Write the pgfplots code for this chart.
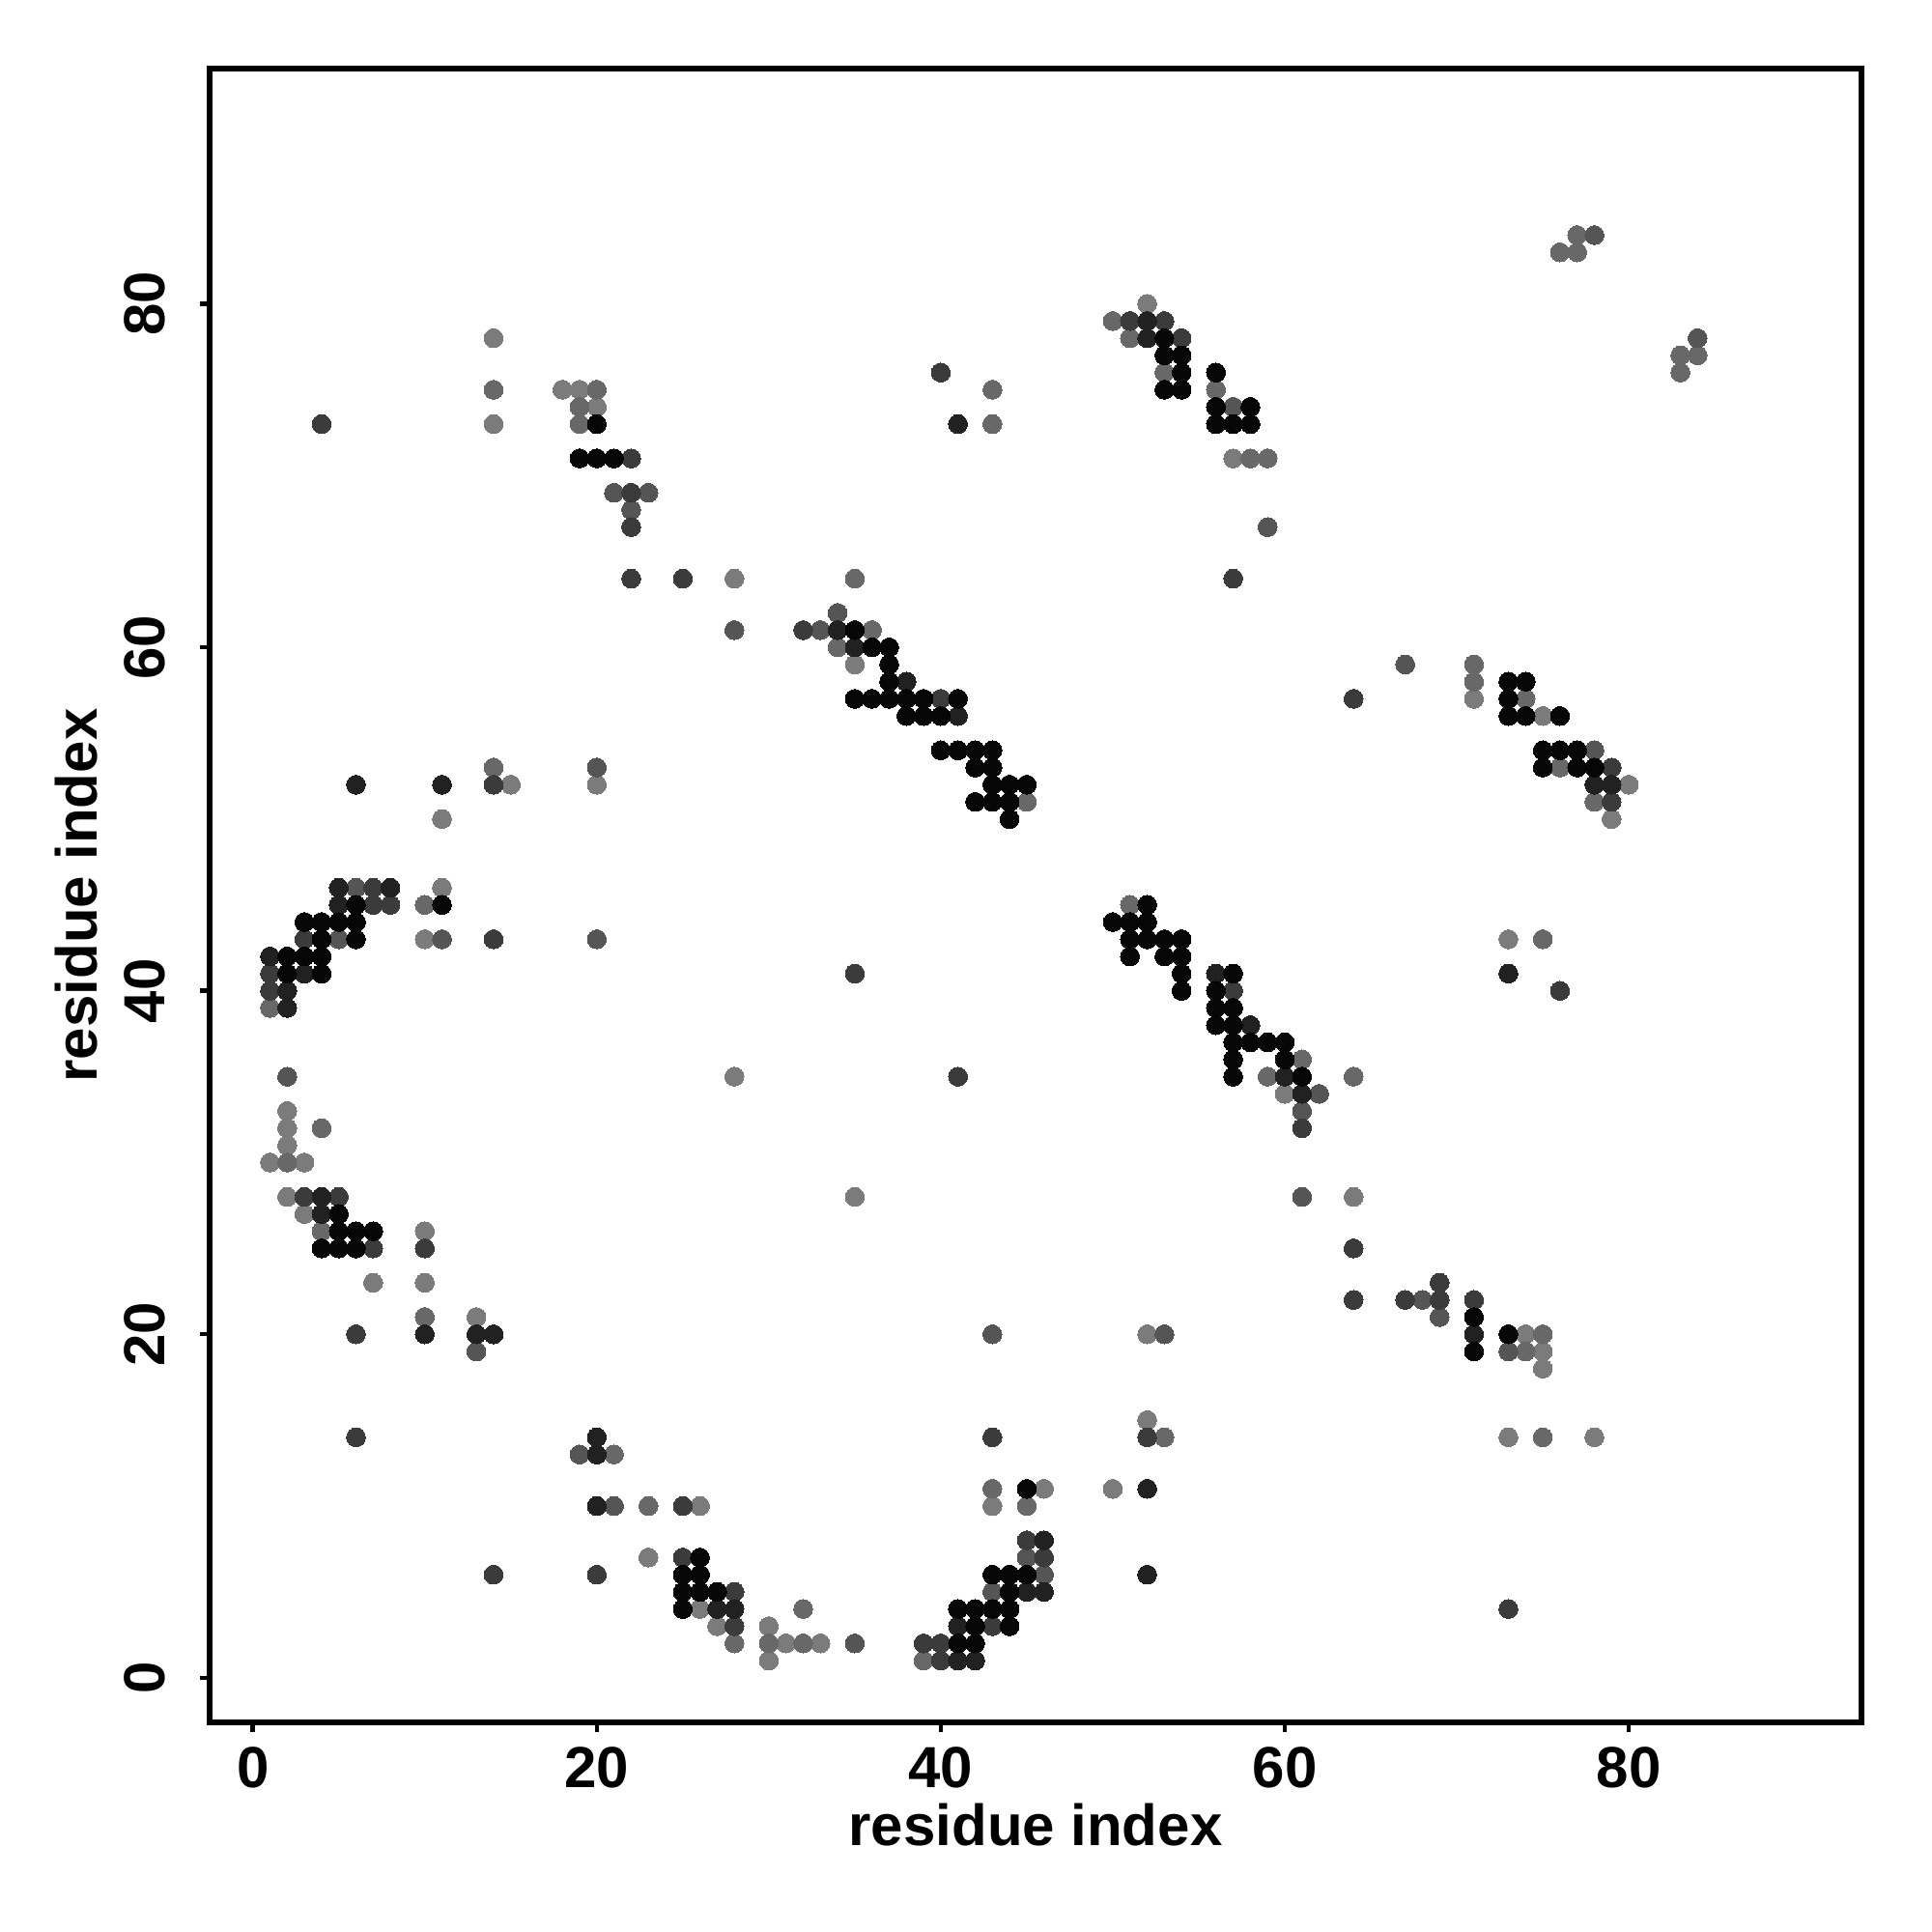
\documentclass[border=0pt]{standalone}
\usepackage{fontspec}
\setmainfont{Liberation Sans}
\usepackage{pgfplots}
\pgfplotsset{compat=1.18}
\definecolor{cK}{HTML}{060606}
\definecolor{cD1}{HTML}{212121}
\definecolor{cD2}{HTML}{3B3B3B}
\definecolor{cM}{HTML}{555555}
\definecolor{cL1}{HTML}{686868}
\definecolor{cL2}{HTML}{7B7B7B}
\pgfplotsset{dot/.style={only marks, mark=*, mark size=2.45pt, color=#1, mark options={solid, draw=#1, fill=#1, line width=0pt}}}
\begin{document}
\begin{tikzpicture}
\path[use as bounding box] (-54.25pt,-54.25pt) rectangle (445.75pt,445.75pt);
\begin{axis}[
  at={(0,0)}, anchor=south west,
  scale only axis, width=427.5pt, height=428pt,
  xmin=-2.51, xmax=93.53, ymin=-2.6, ymax=93.7,
  xtick={0,20,40,60,80}, ytick={0,20,40,60,80},
  xtick pos=lower, ytick pos=left,
  tick align=outside, major tick length=2.5pt,
  tick style={line width=1.1pt, black},
  axis line style={line width=1.3pt},
  /pgf/number format/assume math mode=true,
  ticklabel style={font=\fontsize{15}{18}\selectfont\bfseries, inner sep=0pt},
  xticklabel style={anchor=base, yshift=-14.25pt},
  yticklabel style={xshift=-9pt, rotate=90, anchor=base},
  xlabel={residue index}, ylabel={residue index},
  every axis x label/.style={at={(rel axis cs:0.5,0)}, yshift=-31.75pt, anchor=base, font=\fontsize{15}{18}\selectfont\bfseries},
  every axis y label/.style={at={(rel axis cs:0,0.5)}, xshift=-29pt, rotate=90, anchor=base, font=\fontsize{15}{18}\selectfont\bfseries},
  clip=false,
]
% lightest
\addplot[dot=cL2] coordinates {
(14,78)(18,75)(19,75)(20,74)(14,73)(28,64)(52,80)(57,71)(35,59)(60,34)(71,57)(75,56)(80,52)(79,50)(73,43)(11,50)(15,52)(20,52)(11,46)(10,43)(28,35)(2,33)(2,32)(2,31)(1,30)(3,30)(2,28)(3,27)(7,23)(10,26)(10,23)(13,21)(26,10)(23,7)(26,4)(27,3)(30,3)(30,1)(35,28)(52,20)(52,15)(46,11)(50,11)(43,10)(31,2)(33,2)(64,28)(74,20)(75,19)(75,18)(73,14)(78,14)
};
\addplot[dot=cL1] coordinates {
(14,75)(20,75)(19,74)(19,73)(50,79)(51,78)(53,76)(56,75)(58,71)(59,71)(43,75)(43,73)(35,64)(36,61)(34,60)(45,51)(51,45)(61,36)(59,35)(77,84)(76,83)(77,83)(83,77)(84,77)(83,76)(71,59)(71,58)(74,57)(76,53)(78,51)(75,43)(64,35)(14,53)(10,45)(1,39)(4,32)(2,30)(4,26)(10,21)(21,13)(23,10)(28,2)(30,2)(53,14)(43,11)(45,10)(39,1)(32,2)(32,4)(75,20)(74,19)(75,14)
};
\addplot[dot=cM] coordinates {
(21,69)(23,69)(22,68)(28,61)(57,74)(59,67)(34,62)(33,61)(62,34)(61,33)(78,84)(84,78)(67,59)(78,54)(20,53)(6,46)(5,43)(11,43)(20,43)(2,35)(13,19)(19,13)(21,10)(61,28)(43,20)(53,20)(45,7)(46,6)(43,5)(35,2)(68,22)(69,21)(73,19)
};
\addplot[dot=cD2] coordinates {
(4,73)(22,71)(22,69)(22,67)(22,64)(25,64)(51,79)(53,79)(54,78)(57,64)(40,76)(32,61)(40,57)(57,40)(61,32)(35,41)(41,35)(64,57)(79,53)(79,51)(76,40)(14,52)(7,46)(7,45)(8,45)(3,43)(1,41)(1,40)(14,43)(3,28)(5,28)(7,25)(10,25)(6,20)(6,14)(25,10)(25,7)(14,6)(20,6)(28,5)(28,3)(43,14)(52,14)(45,8)(46,7)(43,3)(39,2)(40,2)(40,1)(64,25)(64,22)(67,22)(69,22)(69,23)(71,22)(73,4)
};
\addplot[dot=cD1] coordinates {
(52,79)(52,78)(41,73)(34,61)(35,60)(38,58)(41,56)(56,41)(58,38)(60,35)(61,34)(78,52)(79,52)(73,41)(6,52)(11,52)(5,46)(8,46)(5,45)(1,42)(3,41)(2,40)(2,39)(4,28)(4,27)(10,20)(13,20)(14,20)(20,14)(20,13)(20,10)(27,4)(28,4)(52,11)(46,8)(52,6)(45,5)(46,5)(41,3)(41,1)(42,1)(71,20)
};
\addplot[dot=cK] coordinates {
(20,73)(19,71)(20,71)(21,71)
(53,78)(53,77)(54,77)(54,76)(53,75)(54,75)(56,76)(56,74)(58,74)(56,73)(57,73)(58,73)
(35,61)(36,60)(37,60)(37,59)(37,58)(35,57)(36,57)(37,57)(38,57)(39,57)(41,57)(38,56)(39,56)(40,56)(40,54)(41,54)(42,54)(43,54)(42,53)(43,53)(43,52)(44,52)(45,52)(42,51)(43,51)(44,51)(44,50)
(52,45)(50,44)(51,44)(52,44)(51,43)(52,43)(53,43)(54,43)(51,42)(53,42)(54,42)(54,41)(54,40)(57,41)(56,40)(56,39)(57,39)(56,38)(57,38)(57,37)(58,37)(59,37)(60,37)(57,36)(60,36)(57,35)(61,35)
(73,58)(74,58)(73,57)(73,56)(74,56)(76,56)(75,54)(76,54)(77,54)(75,53)(77,53)(78,53)
(6,45)(3,44)(4,44)(5,44)(6,44)(4,43)(6,43)(2,42)(3,42)(4,42)(2,41)(4,41)(11,45)
(5,27)(5,26)(6,26)(7,26)(4,25)(5,25)(6,25)(26,7)(25,6)(26,6)(25,5)(26,5)(27,5)(25,4)
(45,11)(43,6)(44,6)(45,6)(44,5)(41,4)(42,4)(43,4)(44,4)(42,3)(44,3)(41,2)(42,2)
(71,21)(71,19)(73,20)
};
\end{axis}
\end{tikzpicture}
\end{document}
